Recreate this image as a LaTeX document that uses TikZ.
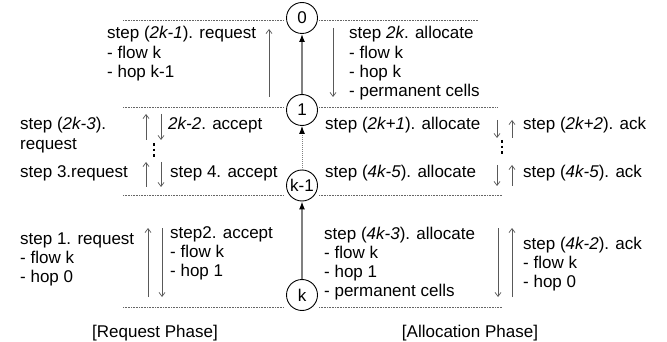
\documentclass[tikz,border=0pt]{standalone}
\usepackage{fontspec}
\setmainfont{Liberation Sans}
\usetikzlibrary{positioning,arrows.meta}

\begin{document}
\begin{tikzpicture}[>=latex, x=1pt, y=-1pt, font=\fontsize{17}{19.2}\selectfont]

    % Define node styles
    \tikzstyle{hop_node} = [draw, circle, line width=0.9pt, minimum size=31pt, inner sep=1pt]
    \tikzstyle{step_text} = [anchor=base west, align=left, inner sep=0pt]
    \tikzstyle{phase_text} = [anchor=base, inner sep=0pt]
    \tikzstyle{hop_link} = [-{Latex[black, length=8pt, width=6pt]}, gray, line width=1.4pt]
    \tikzstyle{msg_arrow} = [-{Straight Barb[length=4pt, width=6pt]}, black!65, line width=0.7pt]
    \tikzstyle{phase_line} = [black!60, line width=0.6pt, dash pattern=on 0.8pt off 0.8pt]
    \tikzstyle{more_dots} = [black, line width=2.6pt, dash pattern=on 2.6pt off 3pt]

    \useasboundingbox (0,0) rectangle (667,342);

    % Draw nodes
    \node [hop_node] (hop0) at (302,18) {0};
    \node [hop_node, below of=hop0, node distance=92pt] (hop1) {1};
    \node [hop_node, below of=hop1, node distance=75.5pt] (hopk1) {k-1};
    \node [hop_node, below of=hopk1, node distance=109.5pt] (hopk) {k};

    % text blocks sit on the baseline of their last line
    \node [step_text] (req_last) at (107,77.4) {step (\textit{2k-1}). request\\- flow k\\- hop k-1};
    \node [step_text] (alloc_first) at (349,96.6) {step \textit{2k}. allocate\\- flow k\\- hop k\\- permanent cells};
    \node [step_text] (req_mid) at (20,149.2) {step (\textit{2k-3}).\\request};
    \node [step_text] (acc_mid) at (168,130) {\textit{2k-2}. accept};
    \node [step_text] (req_three) at (20,178) {step 3.request};
    \node [step_text] (acc_four) at (170,178) {step 4. accept};
    \node [step_text] (alloc_mid) at (325,130) {step (\textit{2k+1}). allocate};
    \node [step_text] (ack_mid) at (523,130) {step (\textit{2k+2}). ack};
    \node [step_text] (alloc_low) at (325,178) {step (\textit{4k-5}). allocate};
    \node [step_text] (ack_low) at (523,178) {step (\textit{4k-5}). ack};
    \node [step_text] (req_one) at (20,282.4) {step 1. request\\- flow k\\- hop 0};
    \node [step_text] (acc_two) at (170,276.4) {step2. accept\\- flow k\\- hop 1};
    \node [step_text] (alloc_last) at (324,296.6) {step (\textit{4k-3}). allocate\\- flow k\\- hop 1\\- permanent cells};
    \node [step_text] (ack_last) at (523,287.4) {step (\textit{4k-2}). ack\\- flow k\\- hop 0};

    \node [phase_text] (request_phase) at (155,337) {[Request Phase]};
    \node [phase_text] (allocation_phase) at (470,337) {[Allocation Phase]};

    % Draw phase lines
    \foreach \y/\xr in {20/478, 107/498, 195/502, 307/502} {
        \draw [phase_line] (123,\y) -- (284,\y);
        \draw [phase_line] (319,\y) -- (\xr,\y);
    }

    % Draw arrows
    \draw [hop_link] (hop1) -- (hop0);
    \draw [hop_link, line width=1pt, dash pattern=on 1pt off 1pt] (hopk1) -- (hop1);
    \draw [hop_link] (hopk) -- (hopk1);

    \coordinate (rq_top_s) at (269,97);  \coordinate (rq_top_e) at (269,29);
    \coordinate (al_top_s) at (333,28);  \coordinate (al_top_e) at (333,97);
    \draw [msg_arrow] (rq_top_s) -- (rq_top_e);
    \draw [msg_arrow] (al_top_s) -- (al_top_e);

    \coordinate (rq_mid_s) at (146,140); \coordinate (rq_mid_e) at (146,114);
    \coordinate (ac_mid_s) at (161,114); \coordinate (ac_mid_e) at (161,140);
    \coordinate (rq_low_s) at (146,187); \coordinate (rq_low_e) at (146,162);
    \coordinate (ac_low_s) at (161,162); \coordinate (ac_low_e) at (161,187);
    \draw [msg_arrow] (rq_mid_s) -- (rq_mid_e);
    \draw [msg_arrow] (ac_mid_s) -- (ac_mid_e);
    \draw [msg_arrow] (rq_low_s) -- (rq_low_e);
    \draw [msg_arrow] (ac_low_s) -- (ac_low_e);

    \coordinate (rq_one_s) at (148,297); \coordinate (rq_one_e) at (148,228);
    \coordinate (ac_two_s) at (162,228); \coordinate (ac_two_e) at (162,297);
    \draw [msg_arrow] (rq_one_s) -- (rq_one_e);
    \draw [msg_arrow] (ac_two_s) -- (ac_two_e);

    \coordinate (al_mid_s) at (497,120); \coordinate (al_mid_e) at (497,138);
    \coordinate (ak_mid_s) at (512,138); \coordinate (ak_mid_e) at (512,120);
    \coordinate (al_low_s) at (497,165); \coordinate (al_low_e) at (497,186);
    \coordinate (ak_low_s) at (512,186); \coordinate (ak_low_e) at (512,165);
    \draw [msg_arrow] (al_mid_s) -- (al_mid_e);
    \draw [msg_arrow] (ak_mid_s) -- (ak_mid_e);
    \draw [msg_arrow] (al_low_s) -- (al_low_e);
    \draw [msg_arrow] (ak_low_s) -- (ak_low_e);

    \coordinate (al_last_s) at (498,228); \coordinate (al_last_e) at (498,297);
    \coordinate (ak_last_s) at (512,297); \coordinate (ak_last_e) at (512,228);
    \draw [msg_arrow] (al_last_s) -- (al_last_e);
    \draw [msg_arrow] (ak_last_s) -- (ak_last_e);

    % Draw dots
    \coordinate (dots_l_s) at (154,143); \coordinate (dots_l_e) at (154,159);
    \coordinate (dots_r_s) at (502,140); \coordinate (dots_r_e) at (502,156);
    \draw [more_dots] (dots_l_s) -- (dots_l_e);
    \draw [more_dots] (dots_r_s) -- (dots_r_e);
\end{tikzpicture}
\end{document}
